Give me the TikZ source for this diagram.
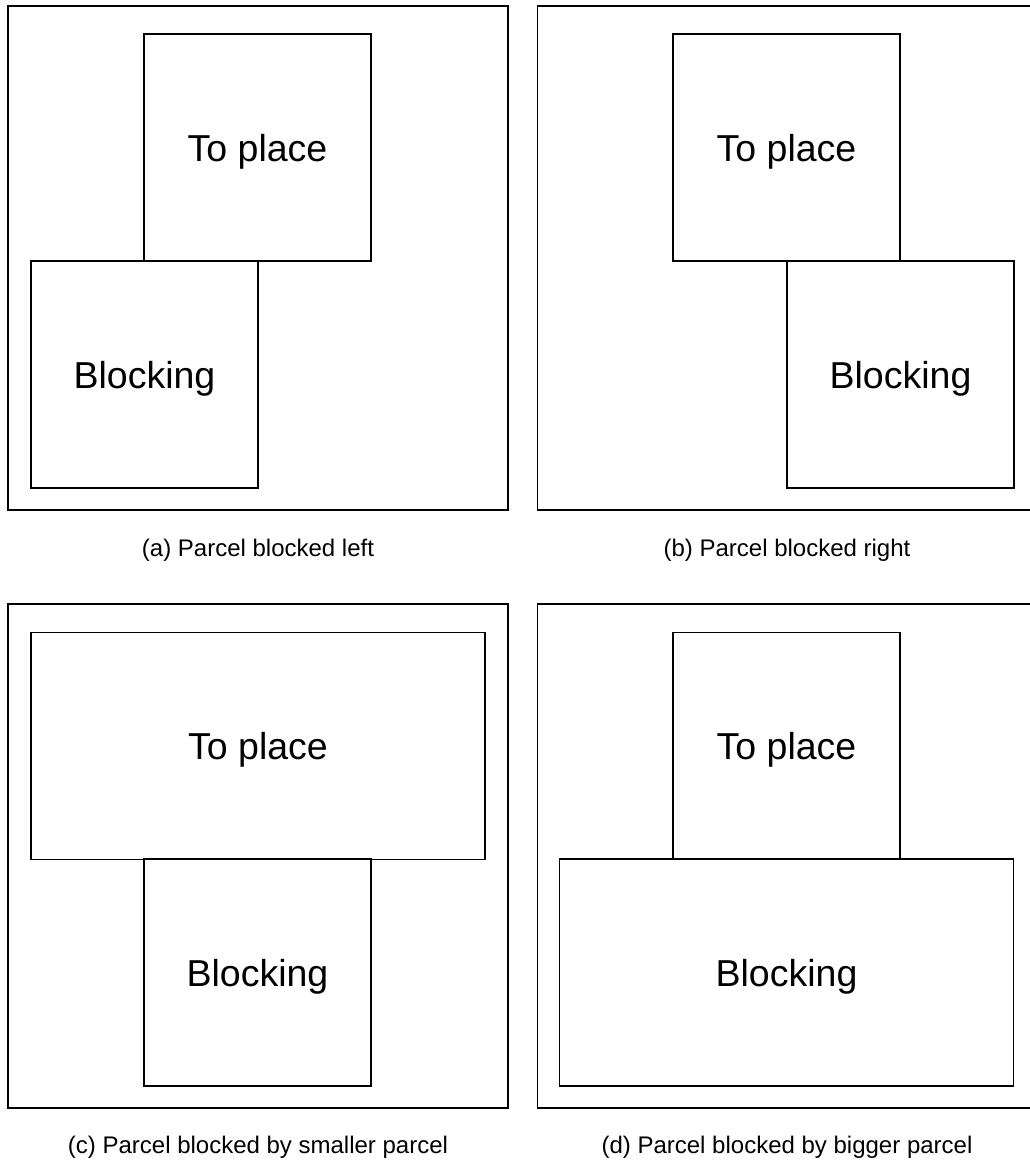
\documentclass[tikz,border=0pt]{standalone}
\usepackage{fontspec}
\setmainfont{Liberation Sans}
\usetikzlibrary{positioning}

\tikzset{
  frame/.style={draw, line width=1.5pt, inner sep=0pt, minimum width=500pt, minimum height=504pt},
  parcel/.style={draw, line width=1.5pt, inner sep=0pt, text depth=0pt, minimum height=227pt, font=\fontsize{37.5}{40}\selectfont},
  small/.style={parcel, minimum width=227pt},
  wide/.style={parcel, minimum width=454pt},
  subcap/.style={font=\fontsize{24}{27}\selectfont}
}

\begin{document}
\begin{tikzpicture}[x=1pt, y=-1pt]
  \useasboundingbox (0,0) rectangle (1030,1162);

  % (a) blocked left
  \node[frame] (frameA) at (258,258) {};
  \node[small] (placeA) at (257.5,147.5) {To place};
  \node[small] (blockA) at (144.5,374.5) {Blocking};
  \node[subcap] (capA) at (258,550) {(a) Parcel blocked left};

  % (b) blocked right
  \node[frame] (frameB) at (787.5,258) {};
  \node[small] (placeB) at (786.5,147.5) {To place};
  \node[small] (blockB) at (900.5,374.5) {Blocking};
  \node[subcap] (capB) at (787,550) {(b) Parcel blocked right};

  % (c) blocked by smaller parcel
  \node[frame] (frameC) at (258,856) {};
  \node[wide] (placeC) at (258,746) {To place};
  \node[small] (blockC) at (257.5,972.5) {Blocking};
  \node[subcap] (capC) at (258,1147) {(c) Parcel blocked by smaller parcel};

  % (d) blocked by bigger parcel
  \node[frame] (frameD) at (787.5,856) {};
  \node[small] (placeD) at (786.5,746) {To place};
  \node[wide] (blockD) at (786.5,972.5) {Blocking};
  \node[subcap] (capD) at (787,1147) {(d) Parcel blocked by bigger parcel};
\end{tikzpicture}
\end{document}
